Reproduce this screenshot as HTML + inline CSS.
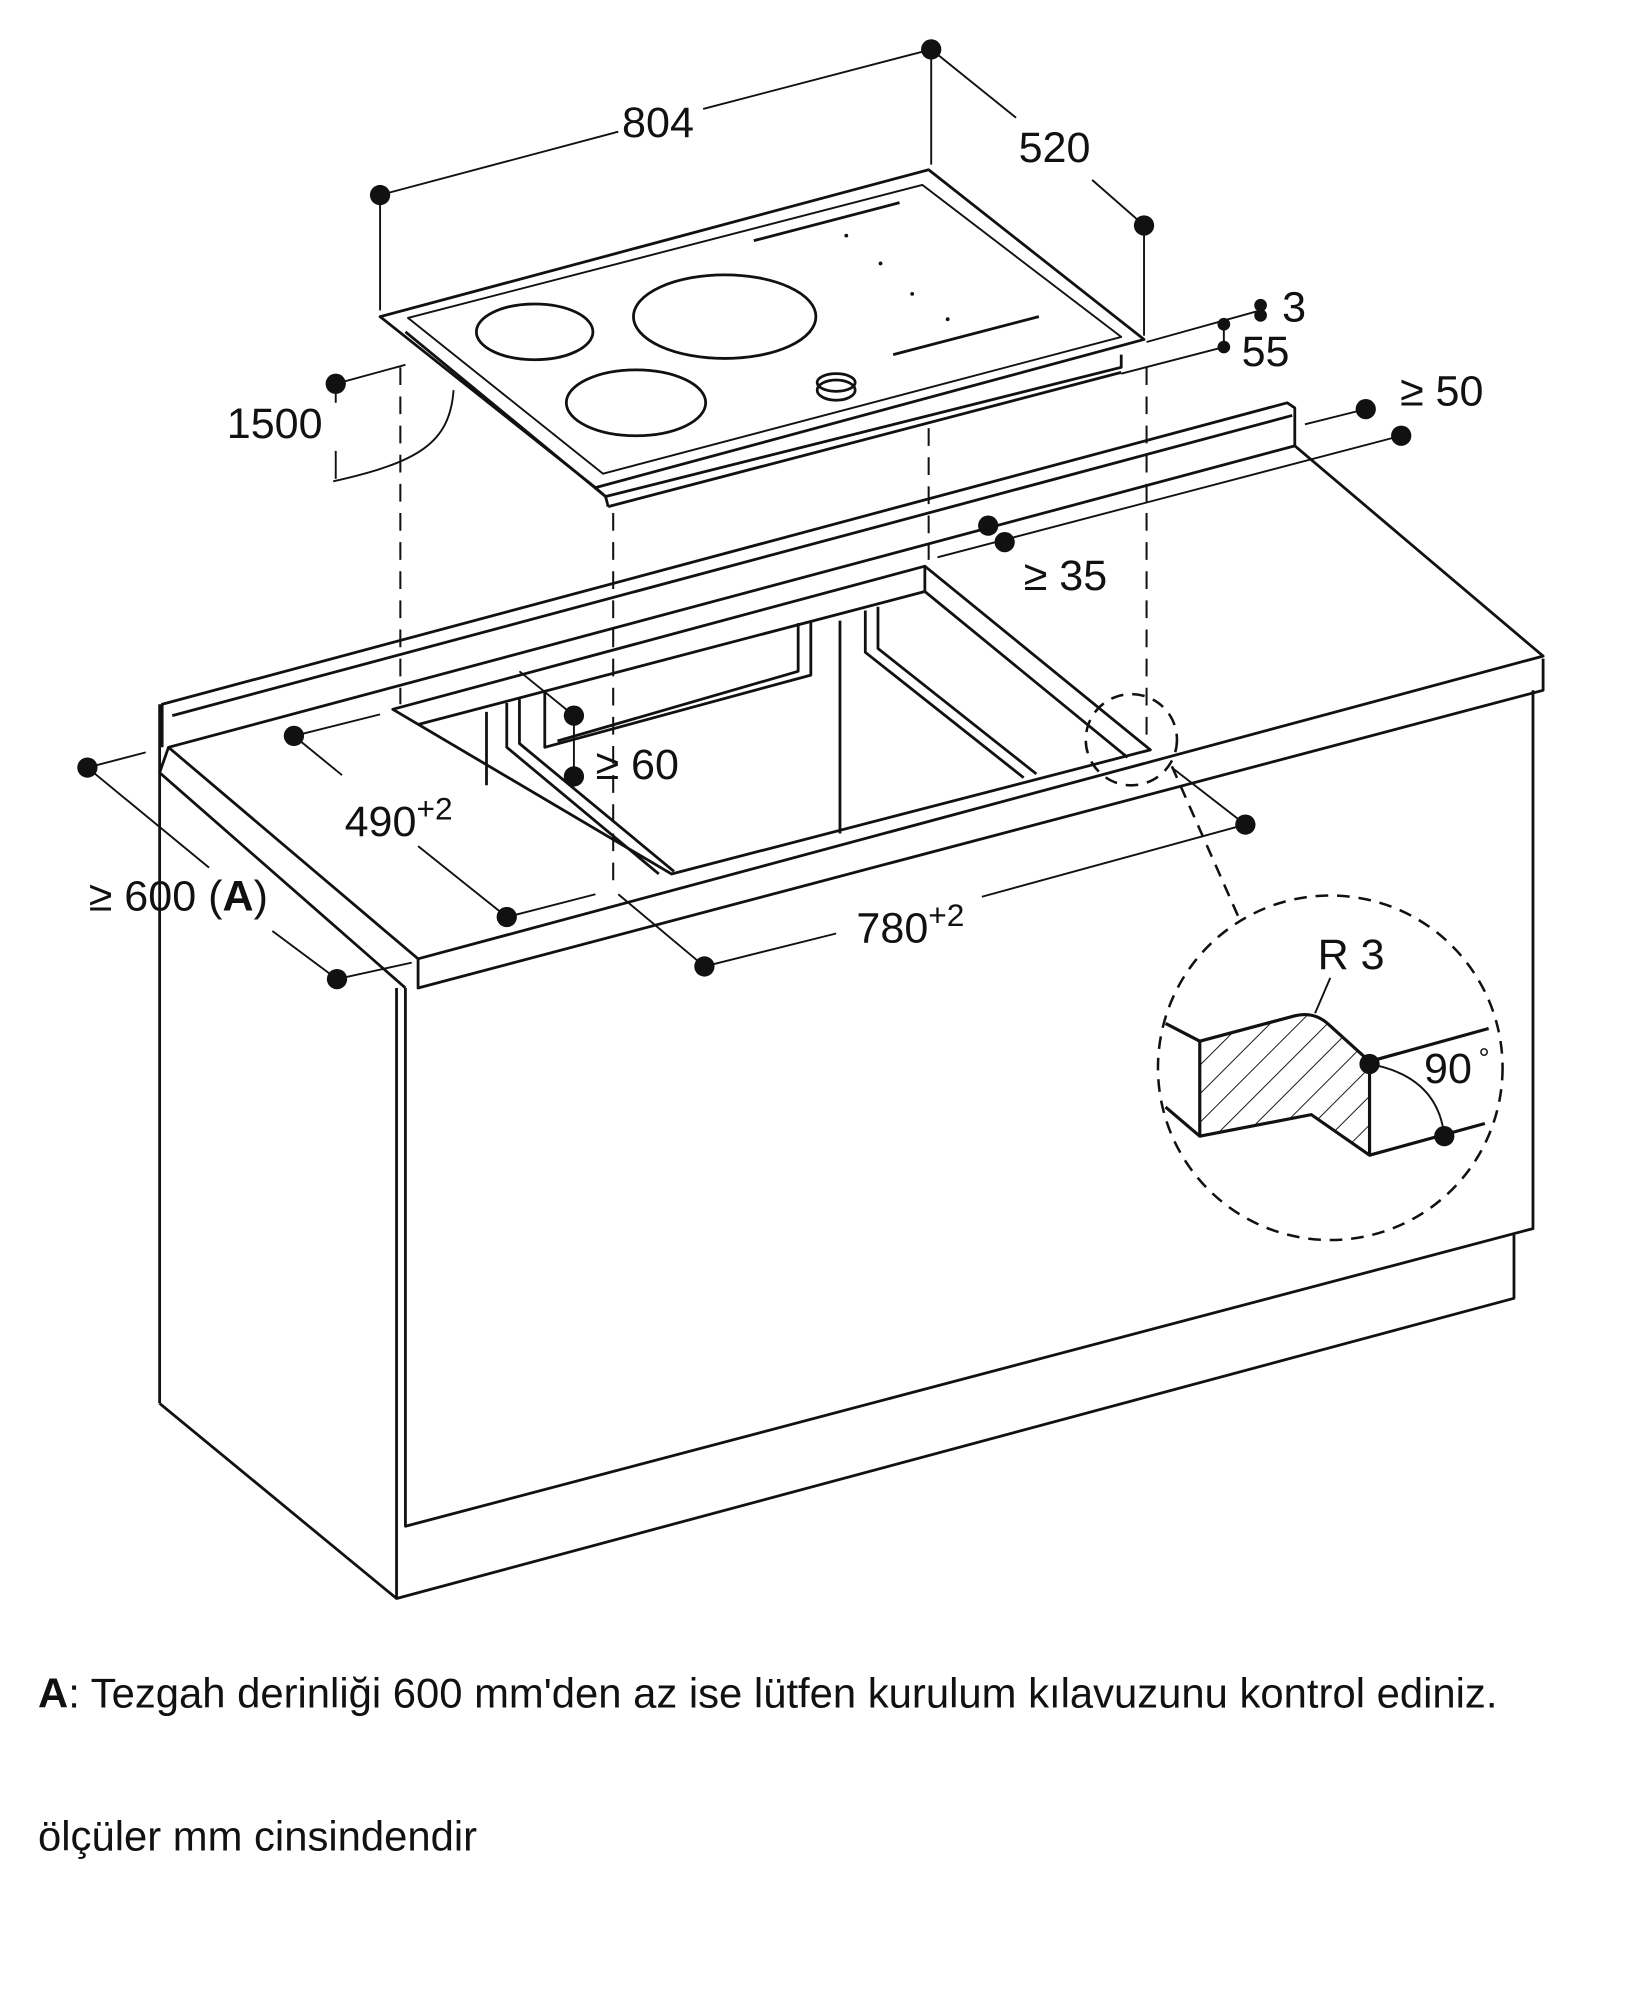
<!DOCTYPE html>
<html><head><meta charset="utf-8"><style>
html,body{margin:0;padding:0;background:#fff;}
svg{display:block;}
text{font-family:"Liberation Sans",sans-serif;fill:#111;}
</style></head><body>
<svg width="1647" height="2000" viewBox="0 0 1300 1579" preserveAspectRatio="none" xmlns="http://www.w3.org/2000/svg">
<defs>
<pattern id="h" patternUnits="userSpaceOnUse" width="16" height="16" patternTransform="rotate(45)">
<line x1="0" y1="0" x2="0" y2="16" stroke="#111" stroke-width="1.5"/>
</pattern>
</defs>
<g fill="none" stroke="#111" stroke-width="2.2" stroke-linejoin="round">
<polygon points="300,250 733,134 903,268 470,385"/>
<polyline points="320,262 478,392 885,290 885,280"/>
<line x1="470" y1="385" x2="478" y2="392"/>
<line x1="480" y1="400" x2="885" y2="294"/>
<line x1="478" y1="392" x2="480" y2="400"/>
<polygon points="322,251 728,146 885,266 476,374" stroke-width="1.5"/>
<ellipse cx="422" cy="262" rx="46" ry="22"/>
<ellipse cx="572" cy="250" rx="72" ry="33"/>
<ellipse cx="502" cy="318" rx="55" ry="26"/>
<ellipse cx="660" cy="308" rx="15" ry="8"/>
<ellipse cx="660" cy="302" rx="15" ry="7"/>
<line x1="595" y1="190" x2="710" y2="160"/>
<line x1="705" y1="280" x2="820" y2="250"/>
<polyline points="128,590 128,556 1016,318 1022,322 1022,352"/>
<line x1="136" y1="565" x2="1020" y2="328"/>
<polygon points="133,590 1022,352 1218,518 330,757"/>
<polyline points="330,757 330,780 1218,545 1218,520"/>
<polyline points="133,590 126,610 320,780"/>
<line x1="126" y1="556" x2="126" y2="1108"/>
<line x1="126" y1="1108" x2="313" y2="1262"/>
<polyline points="320,780 320,1205 1210,970 1210,545"/>
<polyline points="313,780 313,1262 1195,1025 1195,975"/>
<polygon points="310,560 730,447 908,592 530,690"/>
<polyline points="330,572 730,467 890,598"/>
<line x1="730" y1="447" x2="730" y2="467"/>
<line x1="384" y1="562" x2="384" y2="620"/>
<polyline points="400,555 400,590 520,690"/>
<polyline points="410,552 410,587 532,688"/>
<polyline points="430,545 430,590 640,533 640,490"/>
<polyline points="440,585 630,530 630,492"/>
<polyline points="683,482 683,515 808,614"/>
<polyline points="693,479 693,512 818,611"/>
<line x1="663" y1="490" x2="663" y2="658"/>
</g>
<g fill="none" stroke="#111" stroke-width="1.6" stroke-dasharray="14,9">
<line x1="316" y1="290" x2="316" y2="556"/>
<line x1="484" y1="405" x2="484" y2="700"/>
<line x1="733" y1="338" x2="733" y2="442"/>
<line x1="905" y1="290" x2="905" y2="590"/>
</g>
<g fill="none" stroke="#111" stroke-width="2" stroke-dasharray="10,7">
<circle cx="893" cy="584" r="36"/>
<line x1="925" y1="605" x2="978" y2="725"/>
<circle cx="1050" cy="843" r="136"/>
</g>
<g fill="none" stroke="#111" stroke-width="1.5">
<line x1="300" y1="154" x2="488" y2="104"/><line x1="555" y1="86" x2="735" y2="39"/>
<line x1="300" y1="154" x2="300" y2="245"/><line x1="735" y1="39" x2="735" y2="130"/>
<line x1="735" y1="39" x2="802" y2="93"/><line x1="862" y1="142" x2="903" y2="178"/>
<line x1="903" y1="178" x2="903" y2="265"/>
<line x1="905" y1="270" x2="995" y2="245"/><line x1="885" y1="295" x2="966" y2="274"/>
<line x1="966" y1="256" x2="966" y2="274"/>
<line x1="265" y1="303" x2="320" y2="288"/><line x1="265" y1="303" x2="265" y2="318"/><line x1="265" y1="356" x2="265" y2="378"/>
<path d="M263,380 C330,365 355,350 358,308"/>
<line x1="232" y1="581" x2="270" y2="612"/><line x1="330" y1="668" x2="400" y2="724"/>
<line x1="232" y1="581" x2="300" y2="564"/><line x1="400" y1="724" x2="470" y2="706"/>
<line x1="69" y1="606" x2="165" y2="685"/><line x1="215" y1="735" x2="266" y2="773"/>
<line x1="69" y1="606" x2="115" y2="594"/><line x1="266" y1="773" x2="325" y2="760"/>
<line x1="556" y1="763" x2="660" y2="737"/><line x1="775" y1="708" x2="983" y2="651"/>
<line x1="488" y1="706" x2="556" y2="763"/><line x1="925" y1="606" x2="983" y2="651"/>
<line x1="453" y1="565" x2="453" y2="613"/><line x1="410" y1="530" x2="453" y2="565"/>
<line x1="740" y1="440" x2="1106" y2="344"/>
<line x1="1030" y1="335" x2="1078" y2="323"/>
<line x1="1038" y1="800" x2="1050" y2="772"/>
<path d="M1081,840 Q1135,850 1140,897"/>
</g>
<g stroke="#111" stroke-width="2.5" stroke-linejoin="round">
<path d="M947,822 L1022,802 Q1038,798 1050,810 L1081,838 L1081,912 L1035,880 L947,897 Z" fill="url(#h)"/>
<g fill="none">
<line x1="920" y1="808" x2="947" y2="822"/><line x1="920" y1="874" x2="947" y2="897"/>
<line x1="1081" y1="838" x2="1175" y2="812"/><line x1="1081" y1="912" x2="1172" y2="887"/>
</g>
</g>
<g fill="#111">
<circle cx="300" cy="154" r="8"/><circle cx="735" cy="39" r="8"/><circle cx="903" cy="178" r="8"/>
<circle cx="995" cy="241" r="5"/><circle cx="995" cy="249" r="5"/><circle cx="966" cy="256" r="5"/><circle cx="966" cy="274" r="5"/>
<circle cx="265" cy="303" r="8"/>
<circle cx="1078" cy="323" r="8"/><circle cx="1106" cy="344" r="8"/>
<circle cx="780" cy="415" r="8"/><circle cx="793" cy="428" r="8"/>
<circle cx="453" cy="565" r="8"/><circle cx="453" cy="613" r="8"/>
<circle cx="232" cy="581" r="8"/><circle cx="400" cy="724" r="8"/>
<circle cx="69" cy="606" r="8"/><circle cx="266" cy="773" r="8"/>
<circle cx="556" cy="763" r="8"/><circle cx="983" cy="651" r="8"/>
<circle cx="1081" cy="840" r="8"/><circle cx="1140" cy="897" r="8"/>
<circle cx="668" cy="186" r="1.5"/><circle cx="695" cy="208" r="1.5"/><circle cx="720" cy="232" r="1.5"/><circle cx="748" cy="252" r="1.5"/>
</g>
<g font-size="34">
<text x="491" y="108">804</text>
<text x="804" y="128">520</text>
<text x="1012" y="254">3</text>
<text x="980" y="289">55</text>
<text x="1105" y="320">≥ 50</text>
<text x="179" y="346">1500</text>
<text x="808" y="466">≥ 35</text>
<text x="470" y="615">≥ 60</text>
<text x="272" y="660">490<tspan font-size="25" dy="-13">+2</tspan></text>
<text x="70" y="719">≥ 600 (<tspan font-weight="bold">A</tspan>)</text>
<text x="676" y="744">780<tspan font-size="25" dy="-13">+2</tspan></text>
<text x="1040" y="765">R 3</text>
<text x="1124" y="855">90</text>
<text x="1167" y="843" font-size="22">°</text>
<text x="30" y="1348" font-size="33"><tspan font-weight="bold">A</tspan>:  Tezgah derinliği 600 mm'den az ise lütfen kurulum kılavuzunu kontrol ediniz.</text>
<text x="30" y="1461" font-size="33">ölçüler mm cinsindendir</text>
</g>
</svg>
</body></html>
